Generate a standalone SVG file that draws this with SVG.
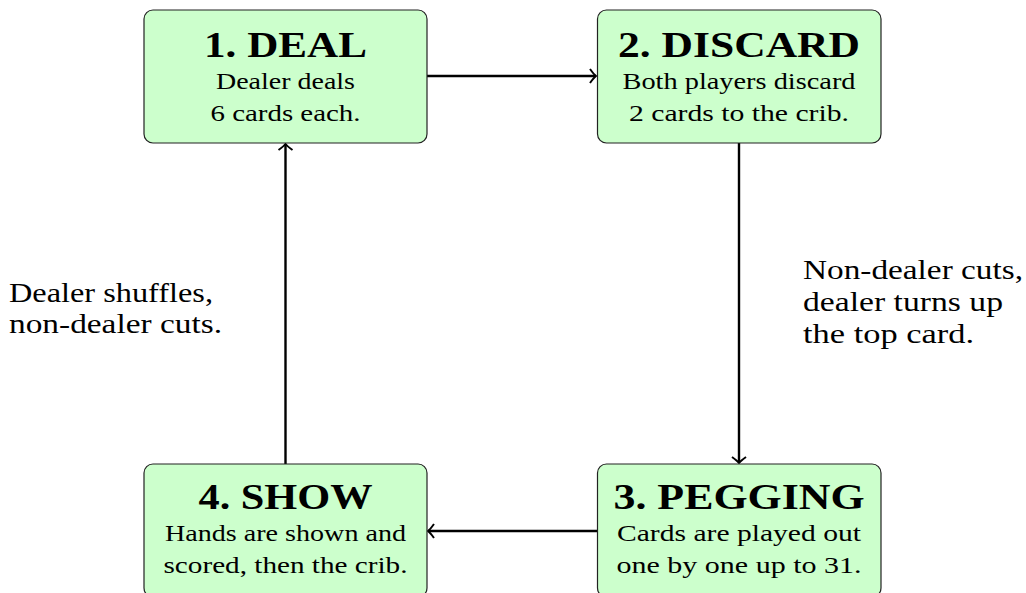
<svg xmlns="http://www.w3.org/2000/svg" width="1026" height="593" viewBox="0 0 1026 593">
<style>
.box{fill:#ccffcc;stroke:#222;stroke-width:1.2}
.t{font-family:"Liberation Serif",serif;font-weight:bold;font-size:36px;fill:#000;text-anchor:middle}
.b{font-family:"Liberation Serif",serif;font-size:24px;fill:#000;text-anchor:middle}
.l{font-family:"Liberation Serif",serif;font-size:27px;fill:#000}
.c{fill:none;stroke:#000;stroke-width:2.4}
</style>
<defs>
<marker id="ah" markerUnits="userSpaceOnUse" markerWidth="20" markerHeight="20" viewBox="-10 -10 20 20" refX="0" refY="0" orient="auto">
<path d="M -6 -7 Q -2 -1.5 0 0 Q -2 1.5 -6 7" fill="none" stroke="#000" stroke-width="2"/>
</marker>
</defs>
<g id="connectors">
<line class="c" x1="427" y1="76" x2="596" y2="76" marker-end="url(#ah)"/>
<line class="c" x1="739" y1="143" x2="739" y2="463" marker-end="url(#ah)"/>
<line class="c" x1="598" y1="531" x2="428" y2="531" marker-end="url(#ah)"/>
<line class="c" x1="285.5" y1="464" x2="285.5" y2="144" marker-end="url(#ah)"/>
<text class="l" x="9" y="302" textLength="204" lengthAdjust="spacingAndGlyphs">Dealer shuffles,</text>
<text class="l" x="9" y="333" textLength="213" lengthAdjust="spacingAndGlyphs">non-dealer cuts.</text>
<text class="l" x="803" y="279" textLength="220" lengthAdjust="spacingAndGlyphs">Non-dealer cuts,</text>
<text class="l" x="803" y="311" textLength="200" lengthAdjust="spacingAndGlyphs">dealer turns up</text>
<text class="l" x="803" y="343" textLength="171" lengthAdjust="spacingAndGlyphs">the top card.</text>
</g>
<g id="deal">
<rect class="box" x="144" y="10" width="283" height="133" rx="9"/>
<text class="t" x="285.5" y="57" textLength="163" lengthAdjust="spacingAndGlyphs">1. DEAL</text>
<text class="b" x="285.5" y="89" textLength="139" lengthAdjust="spacingAndGlyphs">Dealer deals</text>
<text class="b" x="285.5" y="121" textLength="150" lengthAdjust="spacingAndGlyphs">6 cards each.</text>
</g>
<g id="discard">
<rect class="box" x="597.5" y="10" width="283.5" height="133" rx="9"/>
<text class="t" x="739" y="57" textLength="242" lengthAdjust="spacingAndGlyphs">2. DISCARD</text>
<text class="b" x="739" y="89" textLength="233" lengthAdjust="spacingAndGlyphs">Both players discard</text>
<text class="b" x="739" y="121" textLength="220" lengthAdjust="spacingAndGlyphs">2 cards to the crib.</text>
</g>
<g id="pegging">
<rect class="box" x="597.5" y="464" width="283.5" height="133" rx="9"/>
<text class="t" x="739" y="509" textLength="251" lengthAdjust="spacingAndGlyphs">3. PEGGING</text>
<text class="b" x="739" y="541" textLength="244" lengthAdjust="spacingAndGlyphs">Cards are played out</text>
<text class="b" x="739" y="573" textLength="245" lengthAdjust="spacingAndGlyphs">one by one up to 31.</text>
</g>
<g id="show">
<rect class="box" x="144" y="464" width="283" height="133" rx="9"/>
<text class="t" x="285.5" y="509" textLength="174" lengthAdjust="spacingAndGlyphs">4. SHOW</text>
<text class="b" x="285.5" y="541" textLength="241" lengthAdjust="spacingAndGlyphs">Hands are shown and</text>
<text class="b" x="285.5" y="573" textLength="244" lengthAdjust="spacingAndGlyphs">scored, then the crib.</text>
</g>
</svg>
